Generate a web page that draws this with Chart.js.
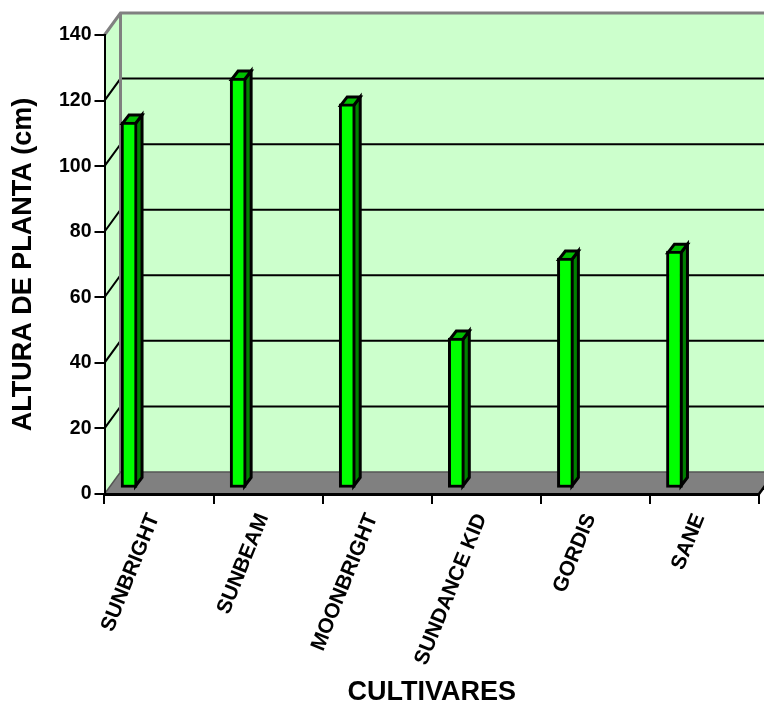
<!DOCTYPE html>
<html><head><meta charset="utf-8">
<style>html,body{margin:0;padding:0;background:#fff}canvas{display:block}</style>
<script src="https://cdn.jsdelivr.net/npm/chart.js@4"></script></head>
<body><canvas id="c" width="764" height="703"></canvas>
<script>
const categories = ["SUNBRIGHT","SUNBEAM","MOONBRIGHT","SUNDANCE KID","GORDIS","SANE"];
const heights = [111.8,125.2,117.3,45.9,70.3,72.4];
const yMin = 0, yMax = 140, yStep = 20;
const wallDX = 16, wallDY = -22;
const barShiftX = -30, barShiftY = -5.5, barDX = 6.5, barDY = -8.5;
const outline = 3;

const scene3d = {
  id:'scene3d',
  beforeDraw(chart){
    const {ctx, chartArea:a, scales:{y}} = chart;
    const l=a.left, r=a.right, t=a.top, b=a.bottom;
    ctx.save();
    ctx.fillStyle='#ccffcc';
    ctx.beginPath();ctx.moveTo(l,b);ctx.lineTo(l,t);ctx.lineTo(l+wallDX,t+wallDY);ctx.lineTo(r+wallDX,t+wallDY);ctx.lineTo(r+wallDX,b+wallDY);ctx.lineTo(l+wallDX,b+wallDY);ctx.closePath();ctx.fill();
    ctx.fillStyle='#808080';
    ctx.beginPath();ctx.moveTo(l,b);ctx.lineTo(l+wallDX,b+wallDY);ctx.lineTo(r+wallDX,b+wallDY);ctx.lineTo(r,b);ctx.closePath();ctx.fill();
    ctx.strokeStyle='#000';ctx.lineWidth=2;
    for(let v=yMin+yStep;v<yMax;v+=yStep){
      const py=y.getPixelForValue(v);
      ctx.beginPath();ctx.moveTo(l,py);ctx.lineTo(l+wallDX,py+wallDY);ctx.lineTo(r+wallDX,py+wallDY);ctx.stroke();
    }
    ctx.strokeStyle='#808080';ctx.lineWidth=3;
    ctx.beginPath();ctx.moveTo(l,t);ctx.lineTo(l+wallDX,t+wallDY);ctx.lineTo(r+wallDX,t+wallDY);ctx.stroke();
    ctx.beginPath();ctx.moveTo(l+wallDX,t+wallDY);ctx.lineTo(l+wallDX,b+wallDY);ctx.stroke();
    ctx.lineWidth=1.5;ctx.strokeStyle='#555555';
    ctx.beginPath();ctx.moveTo(l,b);ctx.lineTo(l+wallDX,b+wallDY);ctx.lineTo(r+wallDX,b+wallDY);ctx.stroke();
    ctx.strokeStyle='#000';ctx.lineWidth=2.5;
    ctx.beginPath();ctx.moveTo(r,b);ctx.lineTo(r+wallDX,b+wallDY);ctx.stroke();
    ctx.restore();
  },
  beforeDatasetsDraw(chart){
    const {ctx}=chart;
    const h=outline/2;
    ctx.save();
    ctx.translate(barShiftX,barShiftY);
    ctx.lineWidth=outline;ctx.strokeStyle='#000';ctx.lineJoin='miter';
    chart.getDatasetMeta(0).data.forEach(bar=>{
      const w=bar.width/2, x0=bar.x-w, x1=bar.x+w, t=bar.y+h, b=bar.base-h;
      ctx.fillStyle='#008000';
      ctx.beginPath();ctx.moveTo(x1-h,t);ctx.lineTo(x1-h+barDX,t+barDY);ctx.lineTo(x1-h+barDX,b+barDY);ctx.lineTo(x1-h,b);ctx.closePath();ctx.fill();ctx.stroke();
      ctx.fillStyle='#00c000';
      ctx.beginPath();ctx.moveTo(x0+h,t);ctx.lineTo(x0+h+barDX,t+barDY);ctx.lineTo(x1-h+barDX,t+barDY);ctx.lineTo(x1-h,t);ctx.closePath();ctx.fill();ctx.stroke();
    });
  },
  afterDatasetsDraw(chart){ chart.ctx.restore(); }
};

new Chart(document.getElementById('c').getContext('2d'),{
  type:'bar',
  data:{labels:categories,datasets:[{data:heights,backgroundColor:'#00ff00',borderColor:'#000',borderWidth:outline,barThickness:16,clip:false,borderSkipped:false}]},
  plugins:[scene3d],
  options:{
    responsive:false,animation:false,
    layout:{padding:{left:7.5,right:5,top:35,bottom:0}},
    plugins:{legend:{display:false},tooltip:{enabled:false}},
    scales:{
      x:{
        grid:{drawOnChartArea:false,color:'#000',lineWidth:2,tickLength:10,offset:true},
        border:{color:'#000',width:3},
        ticks:{color:'#000',font:{family:'Liberation Sans',size:21,weight:'bold'},minRotation:68,maxRotation:68,autoSkip:false,padding:6,labelOffset:-5},
        title:{display:true,text:'CULTIVARES',color:'#000',font:{family:'Liberation Sans',size:27,weight:'bold'},padding:{top:0,bottom:-5.7}},
        afterFit(s){s.height=209;}
      },
      y:{
        min:yMin,max:yMax,
        grid:{drawOnChartArea:false,color:'#000',lineWidth:2,tickLength:10},
        border:{color:'#000',width:2},
        ticks:{stepSize:yStep,color:'#000',font:{family:'Liberation Sans',size:19.5,weight:'bold'},padding:3},
        title:{display:true,text:'ALTURA DE PLANTA (cm)',color:'#000',font:{family:'Liberation Sans',size:27,weight:'bold'},padding:0},
        afterFit(s){s.width=97;}
      }
    }
  }
});
</script></body></html>
